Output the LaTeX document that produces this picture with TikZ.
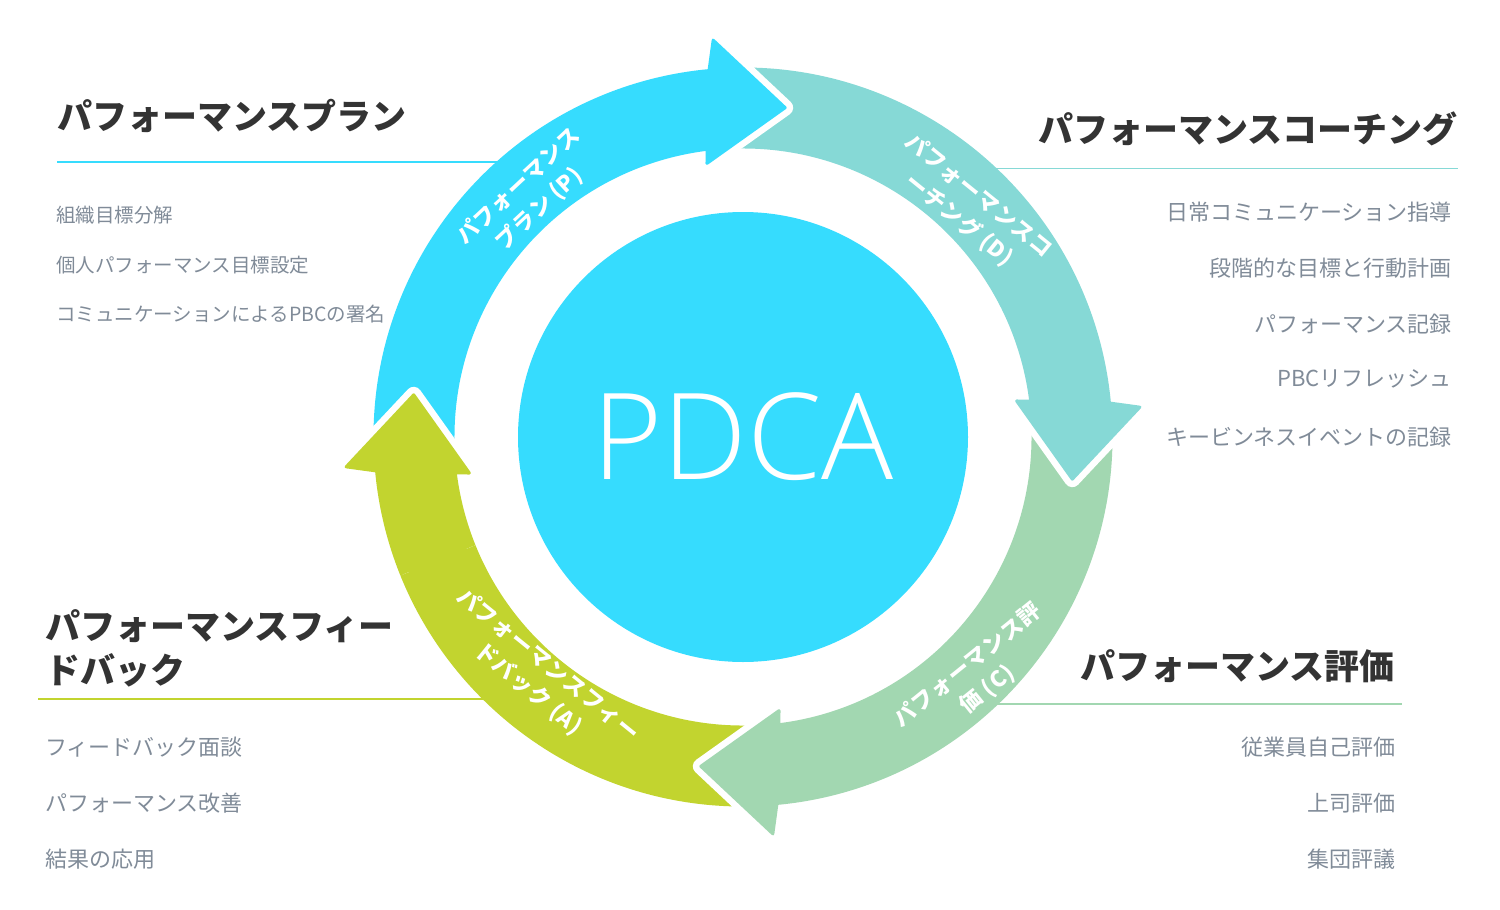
\documentclass[tikz,border=0pt]{standalone}
\usepackage{fontspec}
\setmainfont{Noto Sans CJK JP}
\IfFontExistsTF{Open Sans Light}{\newfontfamily\pdcafont{Open Sans Light}}{\newfontfamily\pdcafont{Open Sans}}
\newfontfamily\ringfont{Noto Sans CJK JP}[LetterSpace=4]
\definecolor{pdcablue}{HTML}{36DCFE}
\definecolor{pdcateal}{HTML}{86D9D6}
\definecolor{pdcagreen}{HTML}{A2D7B1}
\definecolor{pdcalime}{HTML}{C2D42F}
\definecolor{headgray}{HTML}{333333}
\definecolor{itemgray}{HTML}{808B98}
\tikzset{
    hub/.style={
        circle,                   % big disc in the middle
        fill=pdcablue,
        minimum size=450,         % diameter in px
        inner sep=0pt,
        text=white,
        font=\pdcafont\fontsize{120}{120}\selectfont
    },
    arrowbody/.style={
        fill=#1, draw=#1,         % fill and edge share the colour
        line width=3,             % edge only softens the corners
        line join=round,
        preaction={draw=white, line width=16, line join=round} % white gap round each arrow
    },
    ringlabel/.style={
        text=white,
        align=center,             % two short lines, centred
        inner sep=0pt,
        font=\ringfont\fontsize{22}{31}\selectfont\bfseries
    },
    fixedline/.style={
        text height=.88em,        % same box for every line of text
        text depth=.12em,
        inner sep=0pt
    },
    heading/.style={
        text=headgray,
        inner sep=0pt,
        font=\fontsize{35}{43.5}\selectfont\bfseries
    },
    itemtext/.style={
        fixedline,
        text=itemgray,
        font=\fontsize{22}{26}\selectfont
    },
    rule/.style={
        draw=#1,
        line width=1.5            % thin rule under each heading
    }
}
% one ring segment: #1 rotation, #2 colour
\newcommand{\pdcaarrow}[2]{%
    \begin{scope}[rotate=#1]
        \path[arrowbody=#2]
            (183:368) arc[start angle=183, end angle=95.3, radius=368]
            -- (94.3:398) -- (82.7:332) -- (97.5:276) -- (97.1:290)
            arc[start angle=97.1, end angle=186.5, radius=290] -- cycle;
    \end{scope}}
\begin{document}
\begin{tikzpicture}[x=1pt, y=1pt]
    \useasboundingbox (0,0) rectangle (1500,-910);
    \node[hub] (pdca) at (743,-437) {PDCA};
    \begin{scope}[shift={(pdca.center)}]
        \pdcaarrow{90}{pdcalime}
        \pdcaarrow{180}{pdcagreen}
        \pdcaarrow{-90}{pdcateal}
        \pdcaarrow{0}{pdcablue}
        \begin{scope}
            \clip (0,0) -- (158:460) arc[start angle=158, end angle=202, radius=460] -- cycle;
            \pdcaarrow{90}{pdcalime}
        \end{scope}
        \node[ringlabel, rotate=43] (labelP) at (131.8:321) {パフォーマンス\\プラン (P)};
        \node[ringlabel, rotate=-39] (labelD) at (45.4:321.6) {パフォーマンスコ\\ーチング (D)};
        \node[ringlabel, rotate=39] (labelC) at (-45.7:336) {パフォーマンス評\\価 (C)};
        \node[ringlabel, rotate=-39] (labelA) at (229.5:315.6) {パフォーマンスフィー\\ドバック (A)};
    \end{scope}

    \node[heading, fixedline, anchor=west] (planhead) at (57,-125.5) {パフォーマンスプラン};
    \draw[rule=pdcablue] (57,-162) -- (497,-162);
    \node[itemtext, anchor=west, font=\fontsize{19.5}{23}\selectfont] (plan1) at (56,-219) {組織目標分解};
    \node[itemtext, anchor=west, font=\fontsize{19.5}{23}\selectfont] (plan2) at (56,-268.5) {個人パフォーマンス目標設定};
    \node[itemtext, anchor=west, font=\fontsize{19.5}{23}\selectfont] (plan3) at (56,-317.5) {コミュニケーションによるPBCの署名};

    \node[heading, fixedline, anchor=east] (dohead) at (1458,-139) {パフォーマンスコーチング};
    \draw[rule=pdcateal] (996,-168.5) -- (1458,-168.5);
    \node[itemtext, anchor=east] (do1) at (1452,-217) {日常コミュニケーション指導};
    \node[itemtext, anchor=east] (do2) at (1452,-272.5) {段階的な目標と行動計画};
    \node[itemtext, anchor=east] (do3) at (1452,-328.5) {パフォーマンス記録};
    \node[itemtext, anchor=east] (do4) at (1452,-382.5) {PBCリフレッシュ};
    \node[itemtext, anchor=east] (do5) at (1452,-441.5) {キービンネスイベントの記録};

    \node[heading, anchor=west, align=left] (acthead) at (45,-648.5) {パフォーマンスフィー\\ドバック};
    \draw[rule=pdcalime] (38,-699) -- (485,-699);
    \node[itemtext, anchor=west] (act1) at (45,-752) {フィードバック面談};
    \node[itemtext, anchor=west] (act2) at (45,-807.5) {パフォーマンス改善};
    \node[itemtext, anchor=west] (act3) at (45,-863.5) {結果の応用};

    \node[heading, fixedline, anchor=east] (checkhead) at (1395,-676) {パフォーマンス評価};
    \draw[rule=pdcagreen] (997,-704) -- (1402,-704);
    \node[itemtext, anchor=east] (check1) at (1396,-752) {従業員自己評価};
    \node[itemtext, anchor=east] (check2) at (1396,-807.5) {上司評価};
    \node[itemtext, anchor=east] (check3) at (1396,-863.5) {集団評議};
\end{tikzpicture}
\end{document}
